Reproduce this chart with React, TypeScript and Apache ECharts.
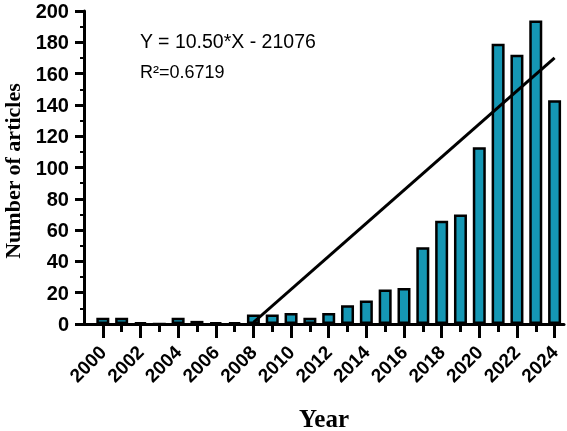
import React, { useEffect, useRef } from "react";
import * as echarts from "echarts";

const years = [2000, 2001, 2002, 2003, 2004, 2005, 2006, 2007, 2008, 2009, 2010, 2011, 2012, 2013, 2014, 2015, 2016, 2017, 2018, 2019, 2020, 2021, 2022, 2023, 2024];
const articles = [4, 4, 1, 0, 4, 2, 1, 1, 6, 6, 7, 4, 7, 12, 15, 22, 23, 49, 66, 70, 113, 179, 172, 194, 143];
const trendYears = [2008, 2024];
const trendValues = [1, 170];
const majorYearTicks = [2000, 2002, 2004, 2006, 2008, 2010, 2012, 2014, 2016, 2018, 2020, 2022, 2024];
const minorYearTicks = [2001, 2003, 2005, 2007, 2009, 2011, 2013, 2015, 2017, 2019, 2021, 2023];
const equationText = "Y = 10.50*X - 21076";
const r2Text = "R²=0.6719";
const yAxisTitle = "Number of articles";
const xAxisTitle = "Year";

export default function App() {
  const ref = useRef<HTMLDivElement>(null);
  useEffect(() => {
    if (!ref.current) return;
    const chart = echarts.init(ref.current, null, { renderer: "svg" });
    const sans = "Liberation Sans, Arial, sans-serif";
    const serif = "Liberation Serif, Times New Roman, serif";
    chart.setOption({
      animation: false,
      grid: { left: 84, right: 3, top: 11, bottom: 107, containLabel: false, outerBoundsMode: "none" },
      xAxis: [
        {
          type: "value",
          min: 1999,
          max: 2024.5,
          position: "bottom",
          axisLine: { show: true, lineStyle: { color: "#000", width: 3 } },
          axisTick: { show: true, customValues: minorYearTicks, length: 8, lineStyle: { color: "#000", width: 3 } },
          axisLabel: { show: false },
          splitLine: { show: false },
        },
        {
          type: "value",
          min: 1999,
          max: 2024.5,
          position: "bottom",
          name: xAxisTitle,
          nameLocation: "middle",
          nameGap: 82,
          nameTextStyle: { fontFamily: serif, fontWeight: "bold", fontSize: 25, color: "#000" },
          axisLine: { show: false },
          axisTick: { show: true, customValues: majorYearTicks, length: 14, lineStyle: { color: "#000", width: 3 } },
          axisLabel: {
            show: true,
            customValues: majorYearTicks,
            rotate: 45,
            margin: 25,
            fontFamily: sans,
            fontWeight: "bold",
            fontSize: 19,
            color: "#000",
            formatter: (v: number) => String(v),
          },
          splitLine: { show: false },
        },
      ],
      yAxis: {
        type: "value",
        min: 0,
        max: 200,
        interval: 20,
        axisLine: { show: true, lineStyle: { color: "#000", width: 3 } },
        axisTick: { show: true, length: 9, lineStyle: { color: "#000", width: 3 } },
        minorTick: { show: true, splitNumber: 2, length: 4, lineStyle: { color: "#000", width: 2 } },
        axisLabel: { fontFamily: sans, fontWeight: "bold", fontSize: 20, color: "#000", margin: 15 },
        splitLine: { show: false },
        minorSplitLine: { show: false },
      },
      series: [
        {
          type: "bar",
          xAxisIndex: 0,
          data: years.map((y, i) => [y, articles[i]]),
          barWidth: 13,
          itemStyle: { color: "#1597B4", borderColor: "#000", borderWidth: 2.5 },
        },
        {
          type: "line",
          xAxisIndex: 0,
          data: trendYears.map((y, i) => [y, trendValues[i]]),
          symbol: "none",
          lineStyle: { color: "#000", width: 3 },
          z: 5,
        },
      ],
      graphic: [
        { type: "text", left: 140, top: 31, style: { text: equationText, font: `19.5px ${sans}`, fill: "#000" } },
        { type: "text", left: 140, top: 63, style: { text: r2Text, font: `18px ${sans}`, fill: "#000" } },
        {
          type: "text",
          x: 12,
          y: 171,
          rotation: Math.PI / 2,
          style: {
            text: yAxisTitle,
            font: `bold 22px ${serif}`,
            fill: "#000",
            align: "center",
            verticalAlign: "middle",
          },
        },
      ],
    });
    return () => chart.dispose();
  }, []);
  return <div ref={ref} style={{ position: "fixed", left: 0, top: 0, width: 567, height: 431 }} />;
}
